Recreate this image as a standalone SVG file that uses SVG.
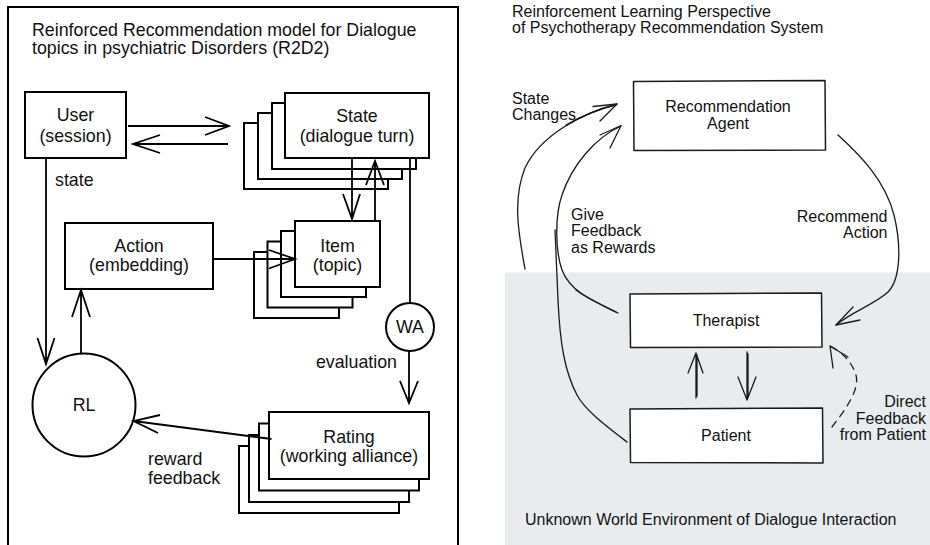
<svg xmlns="http://www.w3.org/2000/svg" width="930" height="545" viewBox="0 0 930 545">
<style>
.t{font-family:"Liberation Sans",Arial,Helvetica,sans-serif;fill:#111}
.l{font-size:17.8px}
.m{font-size:17.8px}
.r{font-size:16px}
.c{text-anchor:middle}
.e{text-anchor:end}
.bx{fill:#fff;stroke:#000;stroke-width:2}
.ln{fill:none;stroke:#000;stroke-width:1.8}
.sk{fill:#fff;stroke:#1a1a1a;stroke-width:1.5;stroke-linejoin:round}
.sl{fill:none;stroke:#1a1a1a;stroke-width:1.3;stroke-linecap:round;stroke-linejoin:round}
</style>
<rect width="930" height="545" fill="#fff"/>
<!-- left frame -->
<path d="M8,560 L8,7 L458,7 L458,560" fill="none" stroke="#000" stroke-width="2"/>
<text class="t l" x="32" y="36">Reinforced Recommendation model for Dialogue</text>
<text class="t l" x="32" y="54">topics in psychiatric Disorders (R2D2)</text>

<g id="user">
<rect class="bx" x="25" y="92" width="101" height="66"/>
<text class="t m c" x="75.5" y="121">User</text>
<text class="t m c" x="75.5" y="142">(session)</text>
</g>
<g id="state">
<rect class="bx" x="244" y="123" width="144" height="66"/>
<rect class="bx" x="258" y="113" width="144" height="66"/>
<rect class="bx" x="272" y="103" width="144" height="66"/>
<rect class="bx" x="285" y="93" width="144" height="65"/>
<text class="t m c" x="357" y="122">State</text>
<text class="t m c" x="357" y="142">(dialogue turn)</text>
</g>
<g id="action">
<rect class="bx" x="65" y="223" width="148" height="66"/>
<text class="t m c" x="139" y="252">Action</text>
<text class="t m c" x="139" y="271">(embedding)</text>
</g>
<g id="item">
<rect class="bx" x="254" y="252" width="85" height="66"/>
<rect class="bx" x="267.5" y="241.5" width="85" height="66"/>
<rect class="bx" x="281" y="231" width="85" height="66"/>
<rect class="bx" x="295" y="221" width="85" height="66"/>
<text class="t m c" x="337.5" y="252">Item</text>
<text class="t m c" x="337.5" y="271">(topic)</text>
</g>
<g id="rl">
<circle class="bx" cx="84" cy="405" r="51.5"/>
<text class="t m c" x="84" y="411">RL</text>
</g>
<g id="wa">
<circle class="bx" cx="410" cy="327" r="24"/>
<text class="t m c" x="410" y="333">WA</text>
</g>
<g id="rating">
<rect class="bx" x="239" y="446" width="160" height="67"/>
<rect class="bx" x="249" y="435" width="160" height="67"/>
<rect class="bx" x="259" y="423.5" width="160" height="67"/>
<rect class="bx" x="269" y="412" width="160" height="67"/>
<text class="t m c" x="349" y="443">Rating</text>
<text class="t m c" x="349" y="462">(working alliance)</text>
</g>

<g id="left-connectors">
<path class="ln" d="M128,126 L229,126 M205,117 L229,126 L205,135"/>
<path class="ln" d="M228,144 L133,144 M160,135 L133,144 L160,153"/>
<path class="ln" d="M46,158 L46,364 M37.5,338 L46,364 L54.5,338"/>
<path class="ln" d="M81,353 L81,290 M72,317 L81,290 L90,317"/>
<path class="ln" d="M213,259 L295,259 M269,250 L295,259 L269,268.5"/>
<path class="ln" d="M352,158 L352,219 M343,194 L352,219 L360,194"/>
<path class="ln" d="M375,221 L375,161 M366,185 L375,161 L384,185"/>
<path class="ln" d="M410,158 L410,303"/>
<path class="ln" d="M409,351 L409,403 M400,381 L409,403 L418,381"/>
<path class="ln" d="M271.5,439 L133.5,421 M160,415 L133.5,421 L158,433"/>
</g>
<text class="t m" x="55" y="186">state</text>
<text class="t m e" x="397" y="368">evaluation</text>
<text class="t m" x="148" y="465">reward</text>
<text class="t m" x="148" y="484">feedback</text>

<!-- right panel -->
<rect x="505" y="272.5" width="425" height="273" fill="#e9ecef"/>
<text class="t r" x="512" y="17">Reinforcement Learning Perspective</text>
<text class="t r" x="512" y="33">of Psychotherapy Recommendation System</text>

<g id="agent">
<path class="sk" d="M633.5,81.5 L825,80.5 L825.5,150 L634,150.5 Z"/>
<text class="t r c" x="728" y="112">Recommendation</text>
<text class="t r c" x="728" y="128.5">Agent</text>
</g>
<g id="therapist">
<path class="sk" d="M630,294 L821.5,293 L822,347 L630.5,347.5 Z"/>
<text class="t r c" x="726" y="325.5">Therapist</text>
</g>
<g id="patient">
<path class="sk" d="M630,409 L822.5,408 L823,463 L630.5,462.5 Z"/>
<text class="t r c" x="726" y="441">Patient</text>
</g>

<g id="right-connectors">
<path class="sl" d="M525,269 C519,236 512,200 525,168 C540,136 580,114 617,104"/>
<path class="sl" d="M566,125 C582,116 598,109 616,105"/>
<path class="sl" d="M593,106.5 L617,104 L600,121"/>
<path class="sl" d="M618,313 C595,302 570,292 562,270 C555,250 555,215 562,195 C572,165 595,138 621,126"/>
<path class="sl" d="M616,312 C600,304 585,297 576,290"/>
<path class="sl" d="M600,135 L621,125.5 L610,148"/>
<path class="sl" d="M627,442 C605,425 585,410 577,395 C565,372 560,345 558,300 C557,275 556,250 555,230"/>
<path class="sl" d="M838,135 C860,155 885,180 894,215 C902,248 900,280 888,292 C875,304 852,312 836,325"/>
<path class="sl" d="M853,307 L836,325 L860,320"/>
<path class="sl" d="M696,398 L696,353 M697,396 L697,355 M688,373 L696,353 L703,373"/>
<path class="sl" d="M747,352 L747,400 M748,354 L748,398 M738,377 L747,400 L756,377"/>
<path class="sl" d="M832,427 C845,410 860,390 856,375 C852,362 842,352 830,346" stroke-dasharray="7,6"/>
<path class="sl" d="M833,368 L830,346 L848,357"/>
</g>
<text class="t r" x="512" y="104">State</text>
<text class="t r" x="512" y="120">Changes</text>
<text class="t r" x="571" y="220">Give</text>
<text class="t r" x="571" y="236">Feedback</text>
<text class="t r" x="571" y="252.5">as Rewards</text>
<text class="t r e" x="887.5" y="222">Recommend</text>
<text class="t r e" x="887.5" y="238">Action</text>
<text class="t r e" x="926" y="407">Direct</text>
<text class="t r e" x="926" y="423.5">Feedback</text>
<text class="t r e" x="926" y="440">from Patient</text>
<text class="t r" x="525" y="525">Unknown World Environment of Dialogue Interaction</text>
</svg>
